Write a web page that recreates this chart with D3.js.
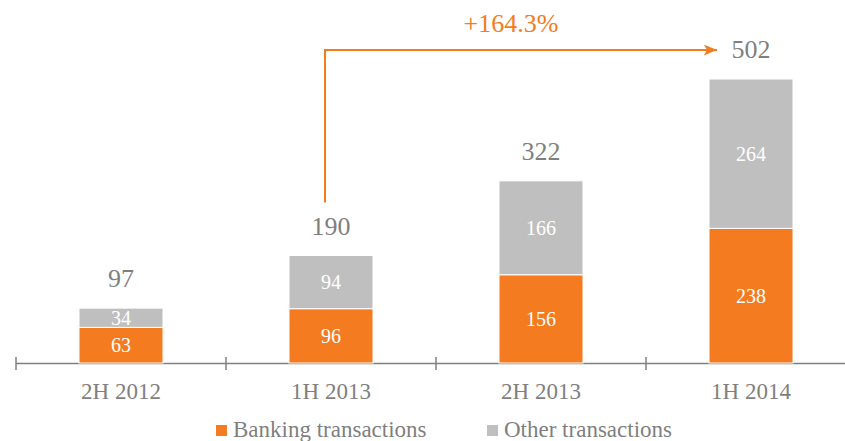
<!DOCTYPE html>
<html>
<head>
<meta charset="utf-8">
<script src="https://cdn.jsdelivr.net/npm/d3@7.9.0/dist/d3.min.js"></script>
<style>
  body { margin: 0; background: #fff; }
  svg { display: block; font-family: "Liberation Serif", "Times New Roman", serif; }
</style>
</head>
<body>
<svg id="chart" width="845" height="441"></svg>
<script>
const categories = ['2H 2012', '1H 2013', '2H 2013', '1H 2014'];
const banking = [63, 96, 156, 238];
const other = [34, 94, 166, 264];
const seriesNames = ['Banking transactions', 'Other transactions'];
const growthLabel = '+164.3%';

const orange = '#f47b20';
const grey = '#bfbfbf';
const textGrey = '#7f7f7f';

const svg = d3.select('#chart');

const data = categories.map((c, i) => ({ cat: c, banking: banking[i], other: other[i] }));
const stack = d3.stack().keys(['banking', 'other']);
const series = stack(data);

let x = d3.scaleBand().domain(categories).range([16, 856]).padding(0);
let y = d3.scaleLinear().domain([0, 600]).range([363, 363 - 600 * 0.5657]);
const barW = x.bandwidth() * 0.4;
const colors = d3.scaleOrdinal().domain(['banking', 'other']).range([orange, grey]);

// axis line + ticks
svg.append('line')
  .attr('x1', 16).attr('x2', 845)
  .attr('y1', y(0) + 0.5).attr('y2', y(0) + 0.5)
  .attr('stroke', '#808080').attr('stroke-width', 1.5);

svg.selectAll('.tick')
  .data(categories)
  .enter()
  .append('line')
  .attr('x1', d => x(d)).attr('x2', d => x(d))
  .attr('y1', y(0) - 6).attr('y2', y(0) + 7)
  .attr('stroke', '#808080').attr('stroke-width', 1.5);

svg.selectAll('.cat-label')
  .data(categories)
  .enter()
  .append('text')
  .attr('x', d => x(d) + x.bandwidth() / 2)
  .attr('y', 399)
  .attr('text-anchor', 'middle')
  .attr('fill', textGrey)
  .attr('font-size', 23)
  .text(d => d);

// bars
series.forEach(s => {
  svg.selectAll('.bar-' + s.key)
    .data(s)
    .enter()
    .append('rect')
    .attr('x', d => x(d.data.cat) + (x.bandwidth() - barW) / 2)
    .attr('y', d => y(d[1]))
    .attr('width', barW)
    .attr('height', d => y(d[0]) - y(d[1]))
    .attr('fill', colors(s.key))
    .attr('stroke', '#fff')
    .attr('stroke-width', 1);

  svg.selectAll('.val-' + s.key)
    .data(s)
    .enter()
    .append('text')
    .attr('x', d => x(d.data.cat) + x.bandwidth() / 2)
    .attr('y', d => (y(d[0]) + y(d[1])) / 2)
    .attr('dy', '0.35em')
    .attr('text-anchor', 'middle')
    .attr('fill', '#fff')
    .attr('font-size', 20)
    .text(d => d[1] - d[0]);
});

// totals
svg.selectAll('.total')
  .data(data)
  .enter()
  .append('text')
  .attr('x', d => x(d.cat) + x.bandwidth() / 2)
  .attr('y', d => y(d.banking + d.other) - 21)
  .attr('text-anchor', 'middle')
  .attr('fill', textGrey)
  .attr('font-size', 26)
  .text(d => d.banking + d.other);

// growth arrow from 1H 2013 to 1H 2014
const from = data[1], to = data[3];
const ax = x(from.cat) + x.bandwidth() / 2 - 6;
const ay0 = y(from.banking + from.other) - 53;
const ay1 = y(to.banking + to.other) - 29;
const tipX = x(to.cat) + (x.bandwidth() - barW) / 2 + 8;

svg.append('defs').append('marker')
  .attr('id', 'arrow')
  .attr('viewBox', '0 0 12 10')
  .attr('refX', 12).attr('refY', 5)
  .attr('markerUnits', 'userSpaceOnUse')
  .attr('markerWidth', 24).attr('markerHeight', 11)
  .attr('orient', 'auto')
  .append('path')
  .attr('d', 'M0,0 L12,5 L0,10 L3,5 Z')
  .attr('fill', orange);

svg.append('path')
  .attr('d', `M${ax},${ay0} V${ay1} H${tipX}`)
  .attr('fill', 'none')
  .attr('stroke', orange)
  .attr('stroke-width', 2)
  .attr('marker-end', 'url(#arrow)');

svg.append('text')
  .attr('x', (ax + tipX) / 2 - 10)
  .attr('y', 32)
  .attr('text-anchor', 'middle')
  .attr('fill', orange)
  .attr('font-size', 26)
  .text(growthLabel);

// legend
const legendX = [216, 487];
const legend = svg.selectAll('.legend')
  .data(seriesNames)
  .enter()
  .append('g')
  .attr('transform', (d, i) => `translate(${legendX[i]},0)`);

legend.append('rect')
  .attr('x', 0).attr('y', 425)
  .attr('width', 11).attr('height', 11)
  .attr('fill', (d, i) => colors.range()[i]);

legend.append('text')
  .attr('x', 17).attr('y', 437)
  .attr('fill', textGrey)
  .attr('font-size', 23)
  .text(d => d);
</script>
</body>
</html>
